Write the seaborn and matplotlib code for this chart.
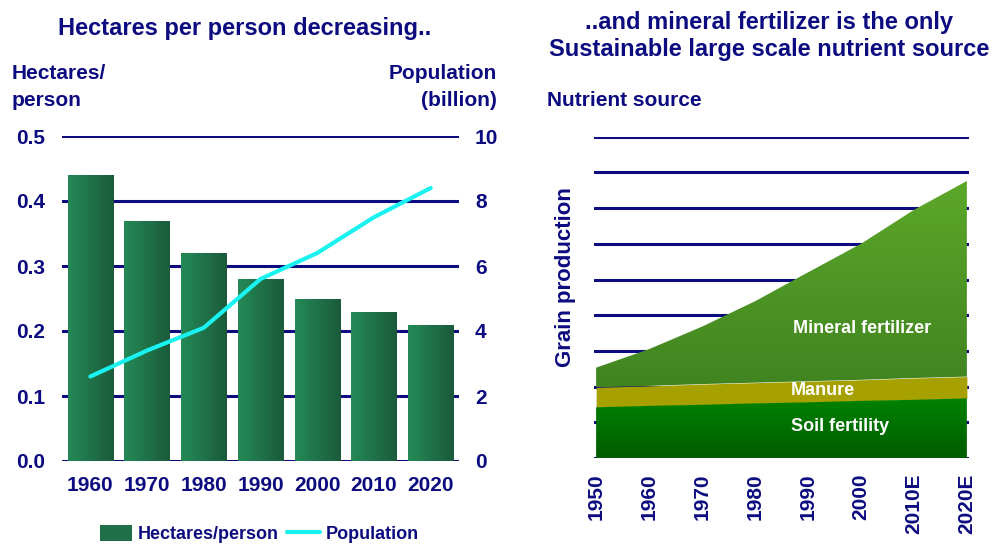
import numpy as np
import pandas as pd
import matplotlib
matplotlib.use("Agg")
import matplotlib.pyplot as plt
from matplotlib.colors import LinearSegmentedColormap
from matplotlib.patches import Patch, PathPatch
from matplotlib.lines import Line2D
import seaborn as sns

# ---- data -------------------------------------------------------------
decades = ["1960", "1970", "1980", "1990", "2000", "2010", "2020"]
hectares_per_person = [0.44, 0.37, 0.32, 0.28, 0.25, 0.23, 0.21]
population_billion = [2.6, 3.4, 4.1, 5.6, 6.4, 7.5, 8.4]

years = [1950, 1960, 1970, 1980, 1990, 2000, 2010, 2020]
year_labels = ["1950", "1960", "1970", "1980", "1990", "2000", "2010E", "2020E"]
soil_fertility = [1.42, 1.46, 1.49, 1.53, 1.56, 1.60, 1.63, 1.67]
manure = [0.56, 0.56, 0.58, 0.58, 0.59, 0.59, 0.61, 0.61]
mineral_fertilizer = [0.55, 1.03, 1.61, 2.28, 3.05, 3.81, 4.71, 5.48]

# ---- style ------------------------------------------------------------
sns.set_theme(style="white")
plt.rcParams["font.family"] = ["Liberation Sans", "DejaVu Sans"]
plt.rcParams["font.weight"] = "bold"
NAVY = "#0c0c80"

fig = plt.figure(figsize=(9.96, 5.44), dpi=100)
W, H = 996, 544


def axes_px(x0, y0, x1, y1):
    return fig.add_axes([x0 / W, 1 - y1 / H, (x1 - x0) / W, (y1 - y0) / H])


def ramp_image(ax, x0, x1, y0, y1, c0, c1, horizontal, zorder):
    cmap = LinearSegmentedColormap.from_list("ramp", [c0, c1])
    grad = np.linspace(0, 1, 256)
    img = grad.reshape(1, -1) if horizontal else grad.reshape(-1, 1)
    return ax.imshow(img, cmap=cmap, aspect="auto", interpolation="bicubic",
                     extent=[x0, x1, y0, y1], origin="lower", zorder=zorder)


def gradient_bar(ax, patch, c0, c1):
    """Paint a bar with a left-to-right colour ramp."""
    x0, y0 = patch.get_x(), patch.get_y()
    x1, y1 = x0 + patch.get_width(), y0 + patch.get_height()
    im = ramp_image(ax, x0, x1, y0, y1, c0, c1, True, patch.get_zorder())
    im.set_clip_path(patch)
    patch.set_facecolor("none")
    patch.set_edgecolor("none")


def gradient_area(ax, coll, x, lo, hi, c0, c1):
    """Paint a filled band with a bottom-to-top colour ramp."""
    clip = PathPatch(coll.get_paths()[0], transform=ax.transData,
                     facecolor="none", edgecolor="none")
    ax.add_patch(clip)
    im = ramp_image(ax, min(x), max(x), min(lo), max(hi), c0, c1, False,
                    coll.get_zorder())
    im.set_clip_path(clip)
    coll.set_visible(False)


# ---- left panel: hectares per person and population -------------------
axL = axes_px(62, 136, 459, 461)
df_left = pd.DataFrame({"decade": decades,
                        "hectares": hectares_per_person,
                        "population": population_billion})

for v in np.arange(0.0, 0.51, 0.1):
    axL.axhline(v, color=NAVY, lw=2.2, zorder=0)

sns.barplot(data=df_left, x="decade", y="hectares", ax=axL,
            color="#1f7048", width=0.8, saturation=1, zorder=2)
for bar in list(axL.patches):
    gradient_bar(axL, bar, "#248a57", "#1b5a3a")

axL.set_xlim(-0.5, 6.5)
axL.set_ylim(0, 0.5)
axL.set_yticks(np.arange(0, 0.51, 0.1))
axL.set_yticklabels([f"{v:.1f}" for v in np.arange(0, 0.51, 0.1)])
axL.set_xlabel("")
axL.set_ylabel("")
for s in axL.spines.values():
    s.set_visible(False)
axL.tick_params(axis="both", length=0, labelsize=15, labelcolor=NAVY)
axL.tick_params(axis="y", pad=12)
axL.tick_params(axis="x", pad=11)
for t in axL.get_xticklabels() + axL.get_yticklabels():
    t.set_fontweight("bold")

axR2 = axL.twinx()
sns.lineplot(x=list(range(len(decades))), y=population_billion, ax=axR2,
             color="#19f2f0", lw=3.0, zorder=3)
axR2.set_ylim(0, 10)
axR2.set_yticks([0, 2, 4, 6, 8, 10])
for s in axR2.spines.values():
    s.set_visible(False)
axR2.tick_params(axis="y", length=0, labelsize=15, labelcolor=NAVY, pad=11.5)
for t in axR2.get_yticklabels():
    t.set_fontweight("bold")

fig.text(245 / W, 1 - 28 / H, "Hectares per person decreasing..", ha="center",
         va="center", fontsize=17, color=NAVY, fontweight="bold")
fig.text(12 / W, 1 - 87 / H, "Hectares/\nperson", ha="left", va="center",
         fontsize=15, color=NAVY, fontweight="bold", linespacing=1.55)
fig.text(497 / W, 1 - 87 / H, "Population\n(billion)", ha="right",
         va="center", fontsize=15, color=NAVY, fontweight="bold",
         linespacing=1.55, multialignment="right")

handles = [Patch(facecolor="#1f7048", edgecolor="none"),
           Line2D([0], [0], color="#19f2f0", lw=3.0)]
fig.legend(handles, ["Hectares/person", "Population"], loc="center",
           bbox_to_anchor=(259 / W, 1 - 534 / H), ncol=2, frameon=False,
           prop={"size": 13, "weight": "bold"}, labelcolor=NAVY,
           handlelength=1.8, handleheight=1.0, columnspacing=0.5,
           handletextpad=0.3)

# ---- right panel: grain production by nutrient source -----------------
axA = axes_px(594, 136.7, 969, 458)
for v in range(0, 10):
    axA.axhline(v, color=NAVY, lw=2.2, zorder=0)

base0 = np.zeros(len(years))
top_soil = np.array(soil_fertility)
top_manure = top_soil + np.array(manure)
top_mineral = top_manure + np.array(mineral_fertilizer)

soil = axA.fill_between(years, base0, top_soil, lw=0, zorder=2)
man = axA.fill_between(years, top_soil, top_manure, color="#a6a000", lw=0,
                       zorder=2)
mineral = axA.fill_between(years, top_manure, top_mineral, lw=0, zorder=2)
gradient_area(axA, soil, years, base0, top_soil, "#005c00", "#008200")
gradient_area(axA, mineral, years, top_manure, top_mineral,
              "#408420", "#5ca82a")

axA.set_xlim(1949.6, 2020.4)
axA.set_ylim(0, 9)
axA.set_yticks([])
axA.set_xticks(years)
axA.set_xticklabels(year_labels, rotation=90, va="top")
for s in axA.spines.values():
    s.set_visible(False)
axA.tick_params(axis="x", length=0, labelsize=15, labelcolor=NAVY, pad=11)
for t in axA.get_xticklabels():
    t.set_fontweight("bold")

axA.text(1987.2, 3.64, "Mineral fertilizer", color="white", fontsize=13,
         fontweight="bold", ha="left", va="center")
axA.text(1986.8, 1.89, "Manure", color="white", fontsize=13,
         fontweight="bold", ha="left", va="center")
axA.text(1986.8, 0.88, "Soil fertility", color="white", fontsize=13,
         fontweight="bold", ha="left", va="center")

fig.text(769 / W, 1 - 36 / H,
         "..and mineral fertilizer is the only\n"
         "Sustainable large scale nutrient source",
         ha="center", va="center", fontsize=17, color=NAVY,
         fontweight="bold", linespacing=1.2)
fig.text(547 / W, 1 - 101 / H, "Nutrient source", ha="left", va="center",
         fontsize=15, color=NAVY, fontweight="bold")
fig.text(566 / W, 1 - 277 / H, "Grain production", ha="center",
         va="center", rotation=90, fontsize=16, color=NAVY,
         fontweight="bold")

fig.savefig("out.png", dpi=100)
